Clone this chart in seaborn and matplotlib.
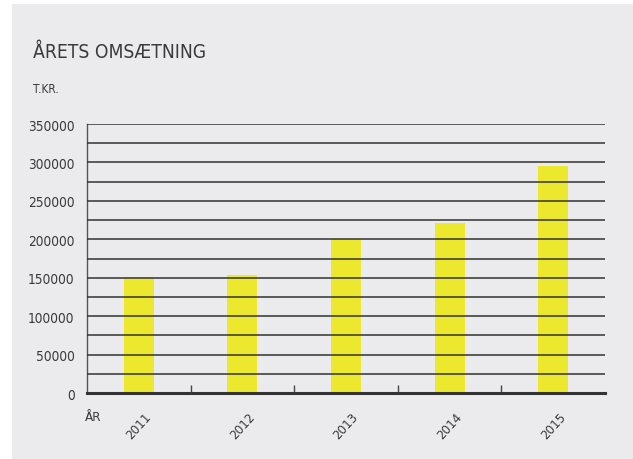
import matplotlib
matplotlib.use("Agg")
import matplotlib.pyplot as plt
import seaborn as sns
import pandas as pd
from matplotlib.patches import Rectangle
from matplotlib.ticker import MultipleLocator, FixedLocator

years = ["2011", "2012", "2013", "2014", "2015"]
revenue = [151000, 153500, 201000, 221000, 295000]
yticks = [0, 50000, 100000, 150000, 200000, 250000, 300000, 350000]
title = "ÅRETS OMSÆTNING"
unit_label = "T.KR."
x_label = "ÅR"

BG = "#ebebed"
BAR = "#ebe82e"
TXT = "#3a3a3a"

sns.set_theme(style="white")
plt.rcParams["font.family"] = ["DejaVu Sans"]
plt.rcParams["font.stretch"] = "condensed"

W, H = 633, 460
fig = plt.figure(figsize=(W / 100, H / 100), dpi=100, facecolor="white")
fig.patches.append(Rectangle((12 / W, 0), 1 - 12 / W, 1 - 5 / H, transform=fig.transFigure,
                             facecolor=BG, edgecolor="none", zorder=-10))

ax = fig.add_axes([87 / W, 1 - 394 / H, (605 - 87) / W, (394 - 125) / H])
ax.set_facecolor(BG)
ax.set_zorder(1)

df = pd.DataFrame({"year": years, "revenue": revenue})
sns.barplot(data=df, x="year", y="revenue", color=BAR, width=0.29, saturation=1,
            linewidth=0, edgecolor=BAR, ax=ax, zorder=1)

ax.set_ylim(0, 350000)
ax.set_xlim(-0.5, len(years) - 0.5)
ax.yaxis.set_major_locator(FixedLocator(yticks))
ax.yaxis.set_minor_locator(MultipleLocator(25000))
ax.set_yticklabels([str(v) for v in yticks])
ax.grid(True, axis="y", which="both", color="#333333", linewidth=1.1, zorder=3)
ax.set_axisbelow(False)

ax.xaxis.set_minor_locator(FixedLocator([0.5, 1.5, 2.5, 3.5]))
ax.tick_params(axis="x", which="minor", direction="in", length=6, width=1, color="#444444", bottom=True)
ax.tick_params(axis="x", which="major", length=0, pad=12)
ax.tick_params(axis="y", which="both", length=0, pad=9)
ax.set_xticks(range(len(years)))
ax.set_xticklabels(years, rotation=48, ha="center", va="top", fontsize=9.5, color=TXT)
for lab in ax.get_yticklabels():
    lab.set_fontsize(9.8)
    lab.set_color(TXT)

ax.set_xlabel("")
ax.set_ylabel("")

for s in ["right", "top"]:
    ax.spines[s].set_visible(False)
ax.spines["left"].set_color("#555555")
ax.spines["left"].set_linewidth(1.0)
ax.spines["bottom"].set_color("#333333")
ax.spines["bottom"].set_linewidth(2.2)

fig.text(33 / W, 1 - 58 / H, title, fontsize=13.8, color=TXT, ha="left", va="baseline")
fig.text(33 / W, 1 - 93 / H, unit_label, fontsize=8.5, color=TXT, ha="left", va="baseline")
fig.text(85 / W, 1 - 421 / H, x_label, fontsize=9.5, color=TXT, ha="left", va="baseline")

fig.savefig("out.png", dpi=100, facecolor="white")
